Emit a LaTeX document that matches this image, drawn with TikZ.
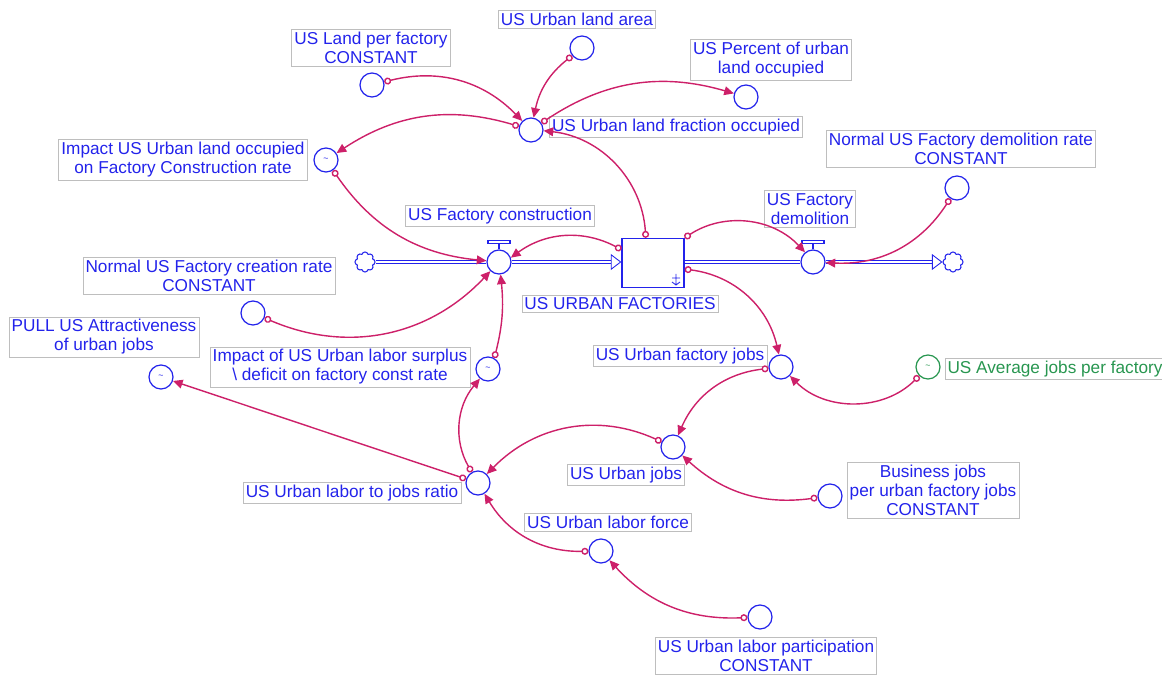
\documentclass[tikz,border=0pt]{standalone}
\usepackage{fontspec}
\setmainfont{Liberation Sans}
\usetikzlibrary{arrows.meta,shapes.symbols}

\definecolor{vblue}{RGB}{35,35,235}
\definecolor{vlink}{RGB}{205,32,105}
\definecolor{vgreen}{RGB}{40,150,80}
\definecolor{vbox}{RGB}{190,190,190}

\tikzset{
  var/.style={circle,draw=vblue,line width=0.7pt,minimum size=0.48cm,inner sep=0pt,font=\tiny,text=vblue},
  lbl/.style={draw=vbox,line width=0.4pt,text=vblue,align=center,inner xsep=1.5pt,inner ysep=1.5pt,
    font=\fontsize{9.8}{10.8}\selectfont},
  link/.style={draw=vlink,line width=0.8pt,
    {Circle[open,length=4pt,width=4pt]}-{Triangle[length=5.5pt,width=5pt]}},
  pipe/.style={draw=vblue,double=white,double distance=1.6pt,line width=0.5pt},
  cloudy/.style={cloud,cloud puffs=8,draw=vblue,line width=0.6pt,minimum width=0.4cm,minimum height=0.4cm,inner sep=0pt},
}

\begin{document}
\begin{tikzpicture}[x=0.02cm,y=-0.02cm]
    \useasboundingbox (0,0) rectangle (1162,675);

    % stock, valves and clouds
    \node[draw=vblue,line width=0.7pt,minimum width=1.24cm,minimum height=0.98cm] (fact) at (653,263) {};
    \draw[vblue,line width=0.5pt] (676,274) -- (676,285) (672,278) -- (680,278) (672,282) -- (676,285) -- (680,282);
    \node[var] (fconstr) at (499,262) {};
    \node[var] (fdemol) at (813,262) {};
    \node[cloudy] (cloudl) at (365,262) {};
    \node[cloudy] (cloudr) at (953,262) {};
    \draw[vblue,line width=0.6pt] (fconstr.north) -- ++(0,-6) ++(-11,0) rectangle ++(22,-3);
    \draw[vblue,line width=0.6pt] (fdemol.north) -- ++(0,-6) ++(-11,0) rectangle ++(22,-3);
    \draw[pipe] (cloudl.east) -- (fconstr.west);
    \draw[pipe,-{Triangle[open,length=6pt,width=9pt]}] (fconstr.east) -- (fconstr.east -| fact.west);
    \draw[pipe] (fdemol.west -| fact.east) -- (fdemol.west);
    \draw[pipe,-{Triangle[open,length=6pt,width=9pt]}] (fdemol.east) -- (cloudr.west);

    % variables
    \node[var] (landpf) at (372,85) {};
    \node[var] (landarea) at (582,48) {};
    \node[var] (landfrac) at (531,130) {};
    \node[var] (pctland) at (746,97) {};
    \node[var] (impland) at (326,160) {\textasciitilde};
    \node[var] (normdemol) at (957,188) {};
    \node[var] (normcreate) at (253,313) {};
    \node[var] (pull) at (161,377) {\textasciitilde};
    \node[var] (implabor) at (488,369) {\textasciitilde};
    \node[var] (factjobs) at (781,367) {};
    \node[var,draw=vgreen,text=vgreen] (avgjobs) at (928,367) {\textasciitilde};
    \node[var] (ujobs) at (673,447) {};
    \node[var] (ratio) at (478,483) {};
    \node[var] (business) at (830,496) {};
    \node[var] (laborforce) at (601,551) {};
    \node[var] (particip) at (760,617) {};

    % labels
    \node[lbl] (factL) at (620,304) {US URBAN FACTORIES};
    \node[lbl] (fconstrL) at (500,216) {US Factory construction};
    \node[lbl] (fdemolL) at (810,209) {US Factory\\demolition};
    \node[lbl] (landpfL) at (371,48) {US Land per factory\\CONSTANT};
    \node[lbl] (landareaL) at (577,19) {US Urban land area};
    \node[lbl] (landfracL) at (676,127) {US Urban land fraction occupied};
    \node[lbl] (pctlandL) at (771,60) {US Percent of urban\\land occupied};
    \node[lbl] (implandL) at (183,160) {Impact US Urban land occupied\\on Factory Construction rate};
    \node[lbl] (normdemolL) at (961,149) {Normal US Factory demolition rate\\CONSTANT};
    \node[lbl] (normcreateL) at (209,276) {Normal US Factory creation rate\\CONSTANT};
    \node[lbl] (pullL) at (104,337) {PULL US Attractiveness\\of urban jobs};
    \node[lbl] (implaborL) at (340,367) {Impact of US Urban labor surplus\\\textbackslash{} deficit on factory const rate};
    \node[lbl] (factjobsL) at (680,356) {US Urban factory jobs};
    \node[lbl,text=vgreen] (avgjobsL) at (1055,369) {US Average jobs per factory};
    \node[lbl] (ujobsL) at (626,475) {US Urban jobs};
    \node[lbl] (ratioL) at (352,493) {US Urban labor to jobs ratio};
    \node[lbl] (businessL) at (933,490) {Business jobs\\per urban factory jobs\\CONSTANT};
    \node[lbl] (laborforceL) at (608,522) {US Urban labor force};
    \node[lbl] (participL) at (766,656) {US Urban labor participation\\CONSTANT};

    % links
    \draw[link] (landpf) to[bend left=30] (landfrac);
    \draw[link] (landarea) to[bend right=20] (landfrac);
    \draw[link] (landfrac) to[bend left=25] (pctland);
    \draw[link] (landfrac) to[bend right=25] (impland);
    \draw[link] (impland) to[bend right=25] (fconstr);
    \draw[link] (fact.106) to[bend right=40] (landfrac);
    \draw[link] (fact.157) to[bend right=32] (fconstr.20);
    \draw[link] (fact.north east) to[bend left=40] (fdemol);
    \draw[link] (normdemol) to[bend left=30] (fdemol);
    \draw[link] (normcreate) to[bend right=35] (fconstr);
    \draw[link] (implabor.60) to[bend right=10] (fconstr);
    \draw[link] (ratio) to[bend left=35] (implabor);
    \draw[link] (ratio) -- (pull);
    \draw[link] (fact.-11) to[bend left=35] (factjobs);
    \draw[link] (avgjobs) to[bend left=45] (factjobs);
    \draw[link] (factjobs) to[bend right=30] (ujobs);
    \draw[link] (ujobs) to[bend right=35] (ratio);
    \draw[link] (business) to[bend left=25] (ujobs);
    \draw[link] (laborforce) to[bend left=30] (ratio);
    \draw[link] (particip) to[bend left=25] (laborforce);
\end{tikzpicture}
\end{document}
